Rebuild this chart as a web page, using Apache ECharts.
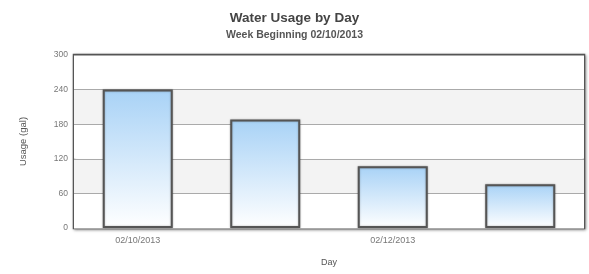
<!DOCTYPE html>
<html><head><meta charset="utf-8">
<script src="https://cdn.jsdelivr.net/npm/echarts@6/dist/echarts.min.js"></script>
<style>html,body{margin:0;padding:0;background:#fff}#c{width:589px;height:274px}</style>
</head><body><div id="c"></div>
<script>
const categories = ['02/10/2013', '02/11/2013', '02/12/2013', '02/13/2013'];
const usage = [240, 188, 107, 76];
const yTicks = [0, 60, 120, 180, 240, 300];

const chart = echarts.init(document.getElementById('c'));
chart.setOption({
  animation: false,
  title: [
    { text: 'Water Usage by Day', left: 'center', top: 6, textStyle: { fontFamily: 'Liberation Sans, Arial', fontSize: 13.5, fontWeight: 'bold', color: '#444' } },
    { text: 'Week Beginning 02/10/2013', left: 'center', top: 25, textStyle: { fontFamily: 'Liberation Sans, Arial', fontSize: 10.5, fontWeight: 'bold', color: '#555' } }
  ],
  grid: { left: 74, right: 5, top: 55, bottom: 46, show: true, borderColor: '#555', borderWidth: 2.5, shadowBlur: 3, shadowColor: 'rgba(0,0,0,0.35)', shadowOffsetX: 1, shadowOffsetY: 1, backgroundColor: '#fff' },
  xAxis: {
    type: 'category', data: categories,
    name: 'Day', nameLocation: 'middle', nameGap: 30,
    nameTextStyle: { fontFamily: 'Liberation Sans, Arial', fontSize: 9, color: '#555' },
    axisLine: { show: false }, axisTick: { show: false },
    axisLabel: { interval: 1, fontFamily: 'Liberation Sans, Arial', fontSize: 9, color: '#777', margin: 8 }
  },
  yAxis: {
    type: 'value', min: 0, max: yTicks[yTicks.length - 1], interval: 60,
    name: 'Usage (gal)', nameLocation: 'middle', nameGap: 46, nameRotate: 90,
    nameTextStyle: { fontFamily: 'Liberation Sans, Arial', fontSize: 9.5, color: '#555' },
    axisLine: { show: false }, axisTick: { show: false },
    axisLabel: { fontFamily: 'Liberation Sans, Arial', fontSize: 8.5, color: '#777', margin: 6 },
    splitLine: { lineStyle: { color: '#aaa', width: 1 } },
    splitArea: { show: true, areaStyle: { color: ['#ffffff', '#f3f3f3'] } }
  },
  series: [{
    type: 'bar', data: usage, barWidth: 70,
    itemStyle: {
      color: new echarts.graphic.LinearGradient(0, 0, 0, 1, [{ offset: 0, color: '#a8d2f6' }, { offset: 1, color: '#ffffff' }]),
      borderColor: '#555', borderWidth: 2,
      shadowBlur: 2, shadowColor: 'rgba(0,0,0,0.3)'
    }
  }]
});
</script></body></html>
